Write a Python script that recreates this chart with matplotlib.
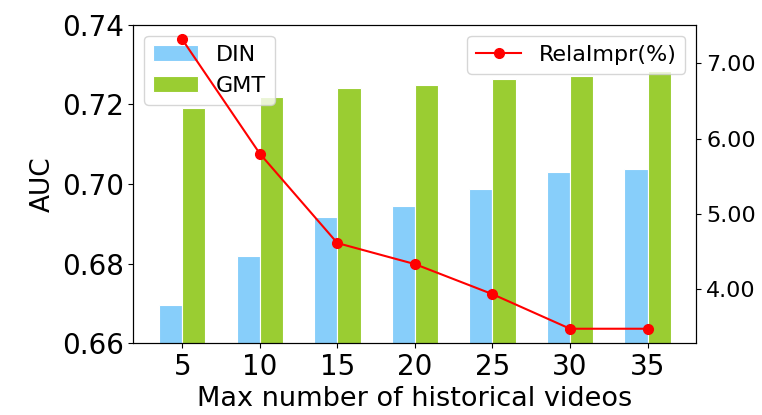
import numpy as np
from matplotlib import pyplot as plt

max_hist = [5, 10, 15, 20, 25, 30, 35]
din_auc = [0.6696, 0.6820, 0.6916, 0.6946, 0.6987, 0.7031, 0.7038]
gmt_auc = [0.7190, 0.7220, 0.7241, 0.7249, 0.7264, 0.7272, 0.7284]
rela_impr = [7.32, 5.80, 4.61, 4.33, 3.93, 3.47, 3.47]

x = np.arange(len(max_hist))
w = 0.3

fig = plt.figure(figsize=(7.62, 4.15), dpi=100)
ax = fig.add_subplot(111)
fig.subplots_adjust(left=0.175, right=0.914, bottom=0.173, top=0.94)

ax.bar(x - w / 2, din_auc, w, color="lightskyblue", edgecolor="white", linewidth=0.8, label="DIN")
ax.bar(x + w / 2, gmt_auc, w, color="yellowgreen", edgecolor="white", linewidth=0.8, label="GMT")
ax.set_ylim(0.66, 0.74)
ax.set_yticks([0.66, 0.68, 0.70, 0.72, 0.74])
ax.set_xticks(x)
ax.set_xticklabels(max_hist)
ax.tick_params(labelsize=20)
ax.set_ylabel("AUC", fontsize=19)
ax.set_xlabel("Max number of historical videos", fontsize=19.5, labelpad=4)
ax.legend(loc="upper left", fontsize=16)

ax2 = ax.twinx()
ax2.plot(x, rela_impr, color="red", marker="o", markersize=7, linewidth=1.5, label="RelaImpr(%)")
ax2.set_yticks([4, 5, 6, 7])
ax2.yaxis.set_major_formatter(plt.FormatStrFormatter("%.2f"))
ax2.tick_params(labelsize=16)
ax2.legend(loc="upper right", fontsize=16)

plt.savefig("out.png")
